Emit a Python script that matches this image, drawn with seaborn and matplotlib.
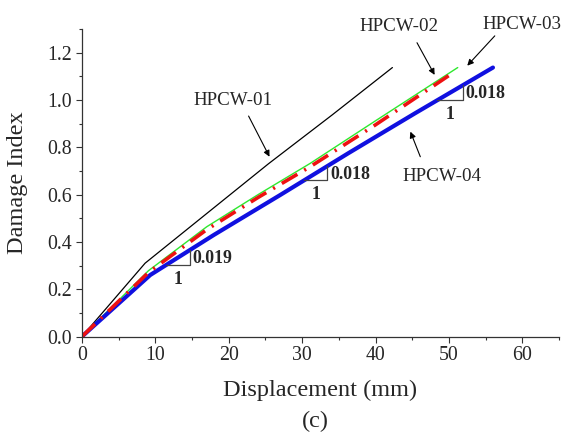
import numpy as np
import pandas as pd
import matplotlib
matplotlib.use("Agg")
import matplotlib.pyplot as plt
from matplotlib.ticker import MultipleLocator
import seaborn as sns

# Damage index vs. displacement for the four walls
disp_01 = [0, 8.6, 17.0, 25.4, 34.1, 42.3]
di_01 = [0, 0.310, 0.520, 0.730, 0.937, 1.137]

disp_02 = [0, 9.05, 17.0, 24.0, 31.1, 40.0, 51.2]
di_02 = [0, 0.278, 0.464, 0.600, 0.732, 0.912, 1.137]

disp_03 = [0, 9.1, 17.0, 24.0, 31.1, 40.0, 50.8]
di_03 = [0, 0.272, 0.452, 0.588, 0.718, 0.895, 1.120]

disp_04 = [0, 9.3, 18.0, 27.0, 36.3, 45.4, 56.0]
di_04 = [0, 0.260, 0.430, 0.598, 0.775, 0.944, 1.137]

specimens = ["HPCW-01", "HPCW-02", "HPCW-03", "HPCW-04"]

# Slope triangles along HPCW-04: (x start, x end, slope text)
tri_x0 = [11.5, 30.3, 48.4]
tri_x1 = [14.7, 33.4, 51.9]
tri_slope = ["0.019", "0.018", "0.018"]

sns.set_style("ticks")
plt.rcParams["font.family"] = ["Liberation Serif", "DejaVu Serif"]

fig = plt.figure(figsize=(5.61, 4.36), dpi=100)
ax = fig.add_axes([82 / 561, 1 - 336.5 / 436, 477 / 561, 307.5 / 436])

frames = []
for name, xs, ys in zip(specimens, [disp_01, disp_02, disp_03, disp_04],
                        [di_01, di_02, di_03, di_04]):
    frames.append(pd.DataFrame({"disp": xs, "di": ys, "specimen": name}))
df = pd.concat(frames, ignore_index=True)

styles = {
    "HPCW-01": dict(color="black", lw=0.9, ls="-"),
    "HPCW-02": dict(color="#2ee82e", lw=1.0, ls="-"),
    "HPCW-04": dict(color="#1010e0", lw=3.0, ls="-"),
    "HPCW-03": dict(color="#ee1111", lw=2.6, ls=(0, (5, 2.2, 0.6, 2.2))),
}
for name in ["HPCW-01", "HPCW-02", "HPCW-04", "HPCW-03"]:
    st = styles[name]
    sns.lineplot(data=df[df["specimen"] == name], x="disp", y="di",
                 estimator=None, sort=False, ax=ax, color=st["color"],
                 linewidth=st["lw"], linestyle=st["ls"], legend=False)

ax.set_xlim(0, 65)
ax.set_ylim(0, 1.3)
ax.xaxis.set_major_locator(MultipleLocator(10))
ax.xaxis.set_minor_locator(MultipleLocator(5))
ax.yaxis.set_major_locator(MultipleLocator(0.2))
ax.yaxis.set_minor_locator(MultipleLocator(0.1))
ax.yaxis.set_major_formatter(plt.FormatStrFormatter("%.1f"))
ax.tick_params(which="major", direction="out", length=4, width=0.8,
               color="#333333", labelsize=14.3, pad=3)
ax.tick_params(which="minor", direction="out", length=2.3, width=0.8,
               color="#333333")
for side in ["top", "right"]:
    ax.spines[side].set_visible(False)
for side in ["left", "bottom"]:
    ax.spines[side].set_color("#333333")
    ax.spines[side].set_linewidth(0.9)

ax.set_xlabel("Displacement (mm)", fontsize=17.5)
ax.set_ylabel("Damage Index", fontsize=17.5)
ax.xaxis.set_label_coords((319.7 - 82) / 476, (336.5 - 390) / 307.5)
ax.xaxis.label.set_verticalalignment("center")
ax.yaxis.set_label_coords((17.5 - 82) / 476, 0.5)
ax.yaxis.label.set_verticalalignment("center")

fig.text(315 / 561, 1 - 421.7 / 436, "(c)", fontsize=17.5, ha="center", va="center")

# Slope triangles drawn under the HPCW-04 curve
for x0, x1, s in zip(tri_x0, tri_x1, tri_slope):
    y0 = np.interp(x0, disp_04, di_04)
    y1 = np.interp(x1, disp_04, di_04)
    ax.plot([x0, x1, x1], [y0, y0, y1], color="#444444", lw=0.9)
    ax.text(x1 + 0.4, (y0 + y1) / 2 - 0.005, s, fontsize=12.8, fontweight="bold",
            ha="left", va="center")
    ax.text((x0 + x1) / 2, y0 - 0.06, "1", fontsize=12.8, fontweight="bold",
            ha="center", va="center")

# Specimen labels with arrows
arrow = dict(arrowstyle="-|>", color="black", lw=0.8, mutation_scale=9,
             shrinkA=0, shrinkB=0)
lab_fs = 13.7
ax.annotate("", xy=(25.55, 0.760), xytext=(22.7, 0.932), arrowprops=arrow)
ax.text(20.6, 0.997, "HPCW-01", fontsize=lab_fs, ha="center", va="center")
ax.annotate("", xy=(48.05, 1.106), xytext=(45.65, 1.242), arrowprops=arrow)
ax.text(43.2, 1.31, "HPCW-02", fontsize=lab_fs, ha="center", va="center", clip_on=False)
ax.annotate("", xy=(52.5, 1.145), xytext=(56.25, 1.271), arrowprops=arrow,
            annotation_clip=False)
ax.text(65.4, 1.321, "HPCW-03", fontsize=lab_fs, ha="right", va="center", clip_on=False)
ax.annotate("", xy=(44.75, 0.866), xytext=(46.1, 0.760), arrowprops=arrow)
ax.text(49.1, 0.676, "HPCW-04", fontsize=lab_fs, ha="center", va="center")

fig.savefig("out.png", dpi=100)
